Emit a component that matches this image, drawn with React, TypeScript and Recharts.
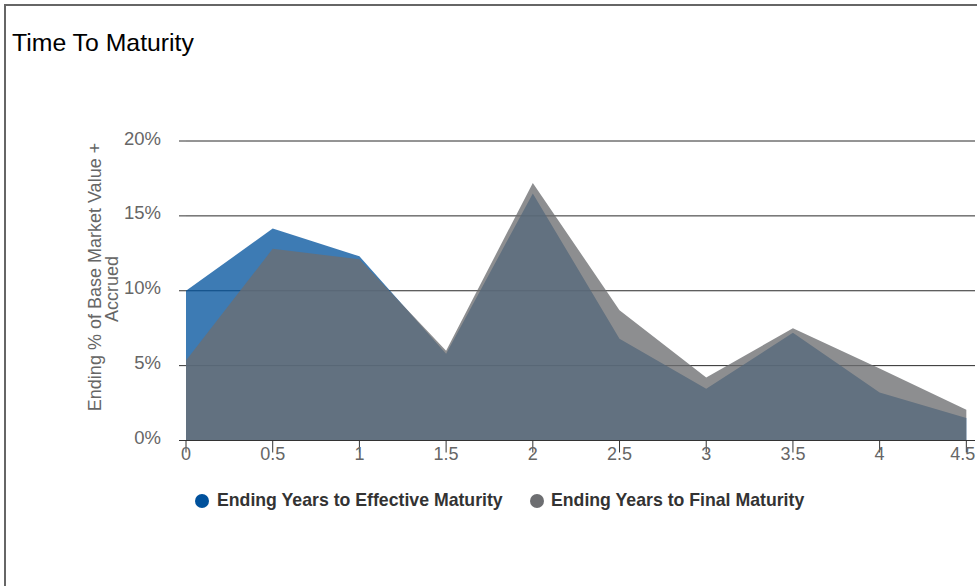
import { Area, AreaChart, CartesianGrid, Legend, XAxis, YAxis } from 'recharts'

const years = [0, 0.5, 1, 1.5, 2, 2.5, 3, 3.5, 4, 4.5]
const effectiveMaturity = [10.0, 14.15, 12.3, 5.8, 16.5, 6.8, 3.45, 7.2, 3.2, 1.5]
const finalMaturity = [5.35, 12.8, 12.1, 6.0, 17.2, 8.7, 4.2, 7.5, 4.8, 2.05]
const yTicks = [0, 5, 10, 15, 20]

const seriesNames = ['Ending Years to Effective Maturity', 'Ending Years to Final Maturity']
const seriesColors = ['#00519c', '#6d6e71']

const data = years.map((year, i) => ({
  year,
  effective: effectiveMaturity[i],
  final: finalMaturity[i],
}))

const font = '"Liberation Sans", Arial, sans-serif'
const lastYear = years[years.length - 1]

function YAxisTitle() {
  return (
    <g fill="#666" fontSize={18} fontFamily={font}>
      <text x={101} y={277} textAnchor="middle" transform="rotate(-90 101 277)">
        Ending % of Base Market Value +
      </text>
      <text x={118} y={289} textAnchor="middle" transform="rotate(-90 118 289)">
        Accrued
      </text>
    </g>
  )
}

// last label is pulled inside the frame, like the original
function XTick(props: any) {
  const { x, y, payload } = props
  const isLast = payload.value === lastYear
  return (
    <text
      x={isLast ? x + 9 : x}
      y={y}
      dy="0.71em"
      textAnchor={isLast ? 'end' : 'middle'}
      fill="#666"
      fontSize={18}
      fontFamily={font}
    >
      {String(payload.value)}
    </text>
  )
}

function LegendContent() {
  return (
    <div style={{ position: 'relative', fontFamily: font, fontSize: 17.7, fontWeight: 'bold', color: '#333' }}>
      {seriesNames.map((name, i) => (
        <div
          key={name}
          style={{
            display: 'flex',
            alignItems: 'center',
            position: 'absolute',
            left: i === 0 ? 195 : 530,
            top: 0,
            whiteSpace: 'nowrap',
          }}
        >
          <span
            style={{
              display: 'inline-block',
              width: 14,
              height: 14,
              borderRadius: 7,
              background: seriesColors[i],
              marginRight: i === 0 ? 8 : 7,
            }}
          />
          {name}
        </div>
      ))}
    </div>
  )
}

export default function App() {
  return (
    <div style={{ position: 'relative', width: 977, height: 586, overflow: 'hidden', background: '#fff' }}>
      <style>{'body { margin: 0; }'}</style>
      {/* frame of the original widget: only its top and left edges fit in the window */}
      <div
        style={{
          position: 'absolute',
          left: 4,
          top: 4,
          width: 1100,
          height: 800,
          borderTop: '2px solid #666',
          borderLeft: '2px solid #666',
        }}
      />
      <div style={{ position: 'absolute', left: 12, top: 29, fontFamily: font, fontSize: 24.8, color: '#000' }}>
        Time To Maturity
      </div>
      <div style={{ position: 'absolute', left: 0, top: 0 }}>
        <AreaChart width={977} height={586} data={data} margin={{ top: 141, right: 2, bottom: 115.5, left: 126 }}>
          <CartesianGrid vertical={false} stroke="#2a2a2a" />
          <XAxis
            dataKey="year"
            type="number"
            domain={[0, 4.55]}
            ticks={years}
            stroke="#333"
            tickSize={12}
            tickMargin={-5}
            tick={<XTick />}
          />
          <YAxis
            width={60}
            domain={[0, 20]}
            ticks={yTicks}
            tickFormatter={(v: number) => `${v}%`}
            axisLine={false}
            tickLine={{ stroke: '#333' }}
            tickSize={7}
            tickMargin={18}
            tick={{ fill: '#666', fontSize: 18.5, fontFamily: font, dy: -3 }}
            label={<YAxisTitle />}
          />
          <Legend
            verticalAlign="middle"
            align="center"
            content={<LegendContent />}
            wrapperStyle={{ position: 'absolute', left: 0, top: 490, width: 977, height: 24 }}
          />
          <Area
            type="linear"
            dataKey="effective"
            name={seriesNames[0]}
            fill={seriesColors[0]}
            fillOpacity={0.76}
            stroke="none"
            dot={false}
            activeDot={false}
            isAnimationActive={false}
          />
          <Area
            type="linear"
            dataKey="final"
            name={seriesNames[1]}
            fill={seriesColors[1]}
            fillOpacity={0.78}
            stroke="none"
            dot={false}
            activeDot={false}
            isAnimationActive={false}
          />
        </AreaChart>
      </div>
    </div>
  )
}
